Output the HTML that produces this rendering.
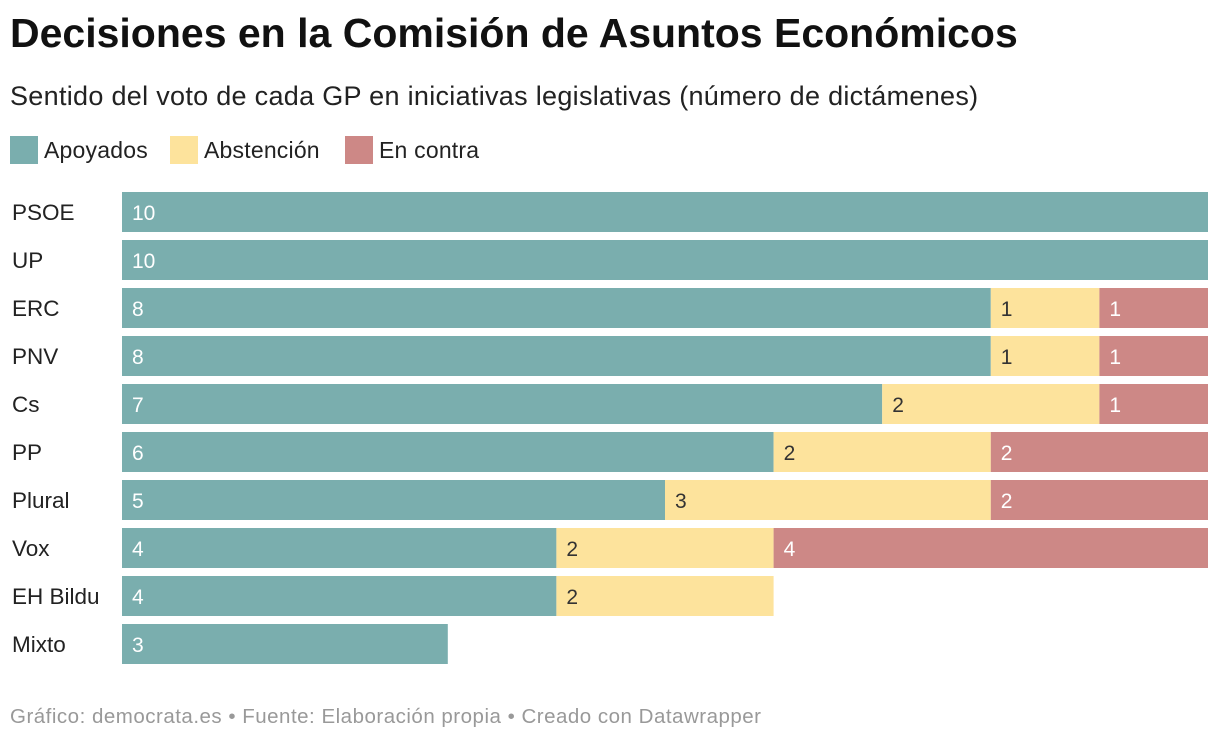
<!DOCTYPE html>
<html><head><meta charset="utf-8"><style>
body{margin:0;width:1220px;height:742px;background:#fff;font-family:"Liberation Sans",sans-serif;overflow:hidden;position:relative}
.t{position:absolute;left:10px;top:10px;font-size:41px;font-weight:bold;color:#111;letter-spacing:0px}
.s{position:absolute;left:10px;top:81px;font-size:27px;letter-spacing:0.3px;color:#222}
.lg{position:absolute;top:136px;font-size:23px;letter-spacing:0.2px;color:#222;display:flex;align-items:center}
.lg span.b{display:inline-block;width:28px;height:28px;margin-right:6px}
.f{position:absolute;left:10px;top:705px;font-size:20.5px;letter-spacing:0.5px;color:#999}
</style></head><body>
<div class="t">Decisiones en la Comisión de Asuntos Económicos</div>
<div class="s">Sentido del voto de cada GP en iniciativas legislativas (número de dictámenes)</div>
<div class="lg" style="left:10px"><span class="b" style="background:#7aaeae"></span>Apoyados</div>
<div class="lg" style="left:170px"><span class="b" style="background:#fde39c"></span>Abstención</div>
<div class="lg" style="left:345px"><span class="b" style="background:#cd8886"></span>En contra</div>
<svg id="c" width="1220" height="742" style="position:absolute;left:0;top:0"></svg>
<div class="f">Gráfico: democrata.es • Fuente: Elaboración propia • Creado con Datawrapper</div>
<script>
const categories=["PSOE","UP","ERC","PNV","Cs","PP","Plural","Vox","EH Bildu","Mixto"];
const apoyados=[10,10,8,8,7,6,5,4,4,3];
const abstencion=[0,0,1,1,2,2,3,2,2,0];
const enContra=[0,0,1,1,1,2,2,4,0,0];
const maxVal=10;
const svg=document.getElementById('c');
const NS="http://www.w3.org/2000/svg";
const x0=122,x1=1208,y0=192,pitch=48,bh=40;
const xs=v=>x0+(x1-x0)*v/maxVal;
const series=[[apoyados,"#7aaeae","#fff","apoyados"],[abstencion,"#fde39c","#333","abstencion"],[enContra,"#cd8886","#fff","en-contra"]];
categories.forEach((cat,i)=>{
  const y=y0+i*pitch;
  const lab=document.createElementNS(NS,'text');
  lab.setAttribute('x',12);lab.setAttribute('y',y+bh/2+8);
  lab.setAttribute('font-size','22.5');lab.setAttribute('fill','#222');
  lab.textContent=cat;
  
  
  svg.appendChild(lab);
  let acc=0;
  series.forEach(([arr,col,tc,nm])=>{
    const v=arr[i];if(!v)return;
    const r=document.createElementNS(NS,'rect');
    r.setAttribute('x',xs(acc));r.setAttribute('y',y);
    r.setAttribute('width',xs(acc+v)-xs(acc));r.setAttribute('height',bh);
    r.setAttribute('fill',col);
    
    
    svg.appendChild(r);
    const t=document.createElementNS(NS,'text');
    t.setAttribute('x',xs(acc)+10);t.setAttribute('y',y+bh/2+8);
    t.setAttribute('font-size','21');t.setAttribute('fill',tc);
    t.textContent=v;
    
    
    svg.appendChild(t);
    acc+=v;
  });
});
</script>
</body></html>
